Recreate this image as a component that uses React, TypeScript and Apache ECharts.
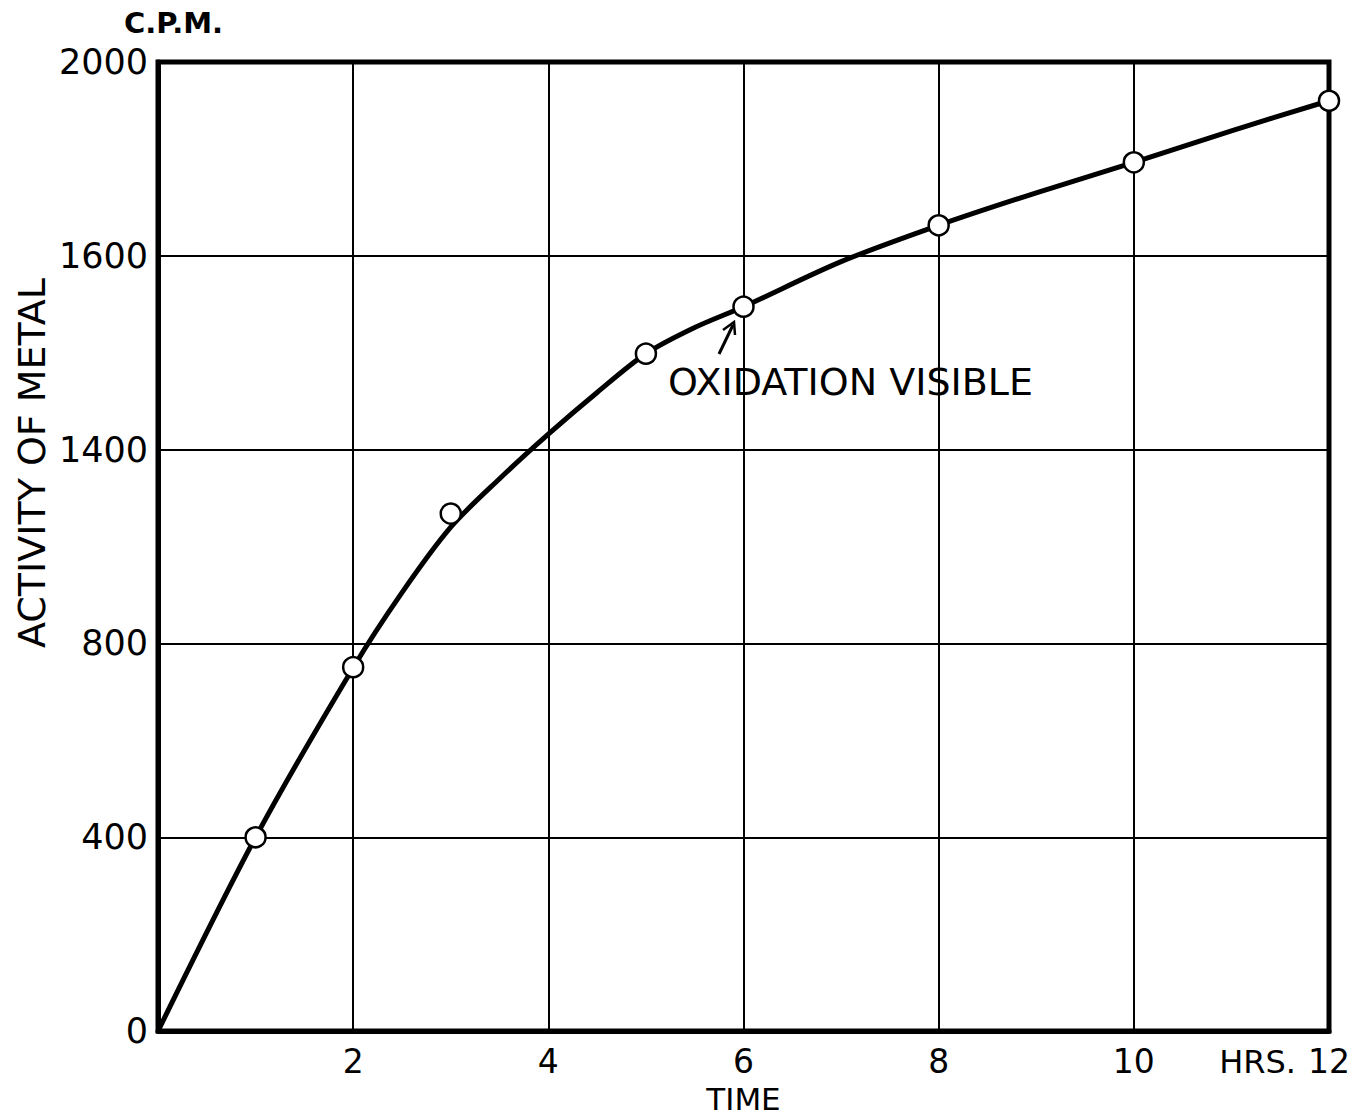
import React, { useEffect, useRef } from "react";
import * as echarts from "echarts";

// Measured points (hours, counts per minute)
const hours = [1, 2, 3, 5, 6, 8, 10, 12];
const activity = [400, 751, 1068, 1398, 1495, 1663, 1793, 1920];

// Drawn smooth curve through the data
const curveHours = [0, 1, 2, 2.5, 3, 3.5, 4, 4.5, 5, 5.5, 6, 7, 8, 9, 10, 11, 12];
const curveActivity = [0, 400, 750, 905, 1040, 1140, 1232, 1318, 1398, 1452, 1495, 1588, 1663, 1730, 1793, 1858, 1920];

// Tick labels as printed on the chart
const yTickLabels = ["0", "400", "800", "1400", "1600", "2000"];
const xTickLabels: Record<number, string> = { 0: "", 2: "2", 4: "4", 6: "6", 8: "8", 10: "10", 12: "12" };

const FONT = "DejaVu Sans";

export default function App() {
  const ref = useRef<HTMLDivElement>(null);
  useEffect(() => {
    document.body.style.margin = "0";
    const chart = echarts.init(ref.current!, null, { renderer: "svg" });
    chart.setOption({
      animation: false,
      backgroundColor: "#ffffff",
      grid: {
        left: 158,
        right: 31,
        top: 62,
        bottom: 83,
        show: true,
        borderColor: "#000",
        borderWidth: 5,
      },
      xAxis: {
        type: "value",
        min: 0,
        max: 12,
        interval: 2,
        name: "TIME",
        nameLocation: "middle",
        nameGap: 50,
        nameTextStyle: { fontFamily: FONT, fontSize: 31, color: "#000" },
        axisLine: { show: true, lineStyle: { color: "#000", width: 5 } },
        axisTick: { show: false },
        splitLine: { show: true, lineStyle: { color: "#000", width: 2 } },
        axisLabel: {
          formatter: (v: number) => xTickLabels[v] ?? String(v),
          fontFamily: FONT,
          fontSize: 33,
          color: "#000",
          margin: 14,
        },
      },
      yAxis: {
        type: "value",
        min: 0,
        max: 2000,
        interval: 400,
        axisLine: { show: true, lineStyle: { color: "#000", width: 5 } },
        axisTick: { show: false },
        splitLine: { show: true, lineStyle: { color: "#000", width: 2 } },
        axisLabel: {
          formatter: (v: number) => yTickLabels[Math.round(v / 400)] ?? String(v),
          fontFamily: FONT,
          fontSize: 35,
          color: "#000",
          margin: 10,
        },
      },
      series: [
        {
          type: "line",
          data: curveHours.map((h, i) => [h, curveActivity[i]]),
          smooth: 0.3,
          showSymbol: false,
          lineStyle: { color: "#000", width: 5 },
          z: 2,
        },
        {
          type: "scatter",
          data: hours.map((h, i) => [h, activity[i]]),
          symbol: "circle",
          symbolSize: 20,
          itemStyle: { color: "#fff", opacity: 1, borderColor: "#000", borderWidth: 2.5 },
          z: 3,
        },
      ],
      graphic: [
        {
          type: "text",
          left: 124,
          top: 8,
          style: { text: "C.P.M.", fontFamily: FONT, fontSize: 29, fontWeight: "bold", fill: "#000" },
        },
        {
          type: "text",
          x: 32,
          y: 463,
          rotation: Math.PI / 2,
          style: {
            text: "ACTIVITY OF METAL",
            fontFamily: FONT,
            fontSize: 38,
            fill: "#000",
            align: "center",
            verticalAlign: "middle",
          },
        },
        {
          type: "text",
          x: 1296,
          y: 1062,
          style: {
            text: "HRS.",
            fontFamily: FONT,
            fontSize: 32,
            fill: "#000",
            align: "right",
            verticalAlign: "middle",
          },
        },
        {
          type: "text",
          x: 668,
          y: 382,
          style: {
            text: "OXIDATION VISIBLE",
            fontFamily: FONT,
            fontSize: 38,
            fill: "#000",
            align: "left",
            verticalAlign: "middle",
          },
        },
        {
          type: "line",
          shape: { x1: 719, y1: 354, x2: 733, y2: 325 },
          style: { stroke: "#000", lineWidth: 3 },
        },
        {
          type: "polyline",
          shape: { points: [[723, 330], [734, 322], [735, 335]] },
          style: { stroke: "#000", lineWidth: 2.5, fill: "none" },
        },
      ],
    });
    return () => chart.dispose();
  }, []);
  return <div ref={ref} style={{ width: 1360, height: 1119 }} />;
}
